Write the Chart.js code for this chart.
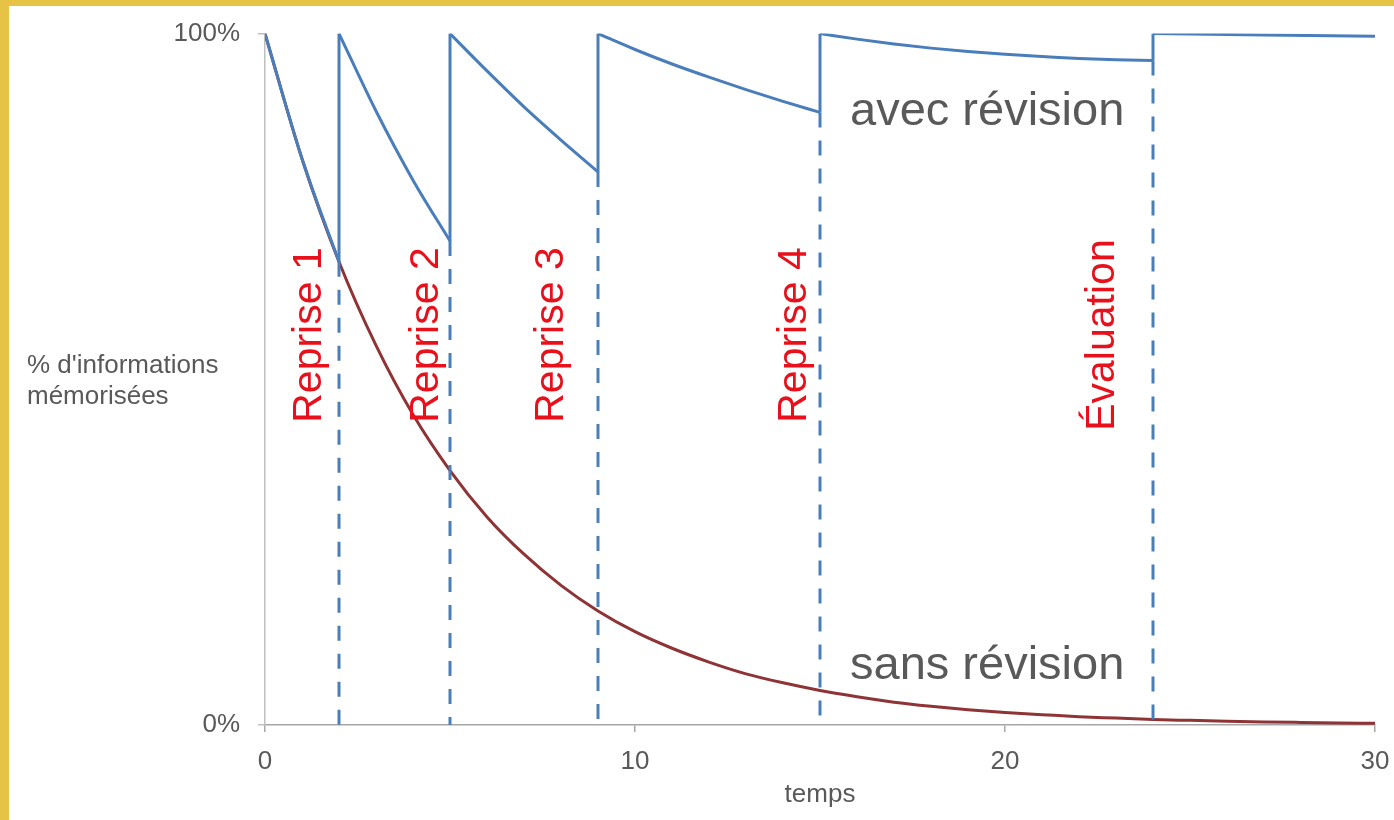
<!DOCTYPE html>
<html lang="fr">
<head>
<meta charset="utf-8">
<title>Courbe de l'oubli</title>
<script src="https://cdn.jsdelivr.net/npm/chart.js@4.4.1/dist/chart.umd.min.js"></script>
<style>
  html, body { margin: 0; padding: 0; background: #fff; }
  canvas { display: block; }
</style>
</head>
<body>
<canvas id="chart" width="1394" height="820"></canvas>
<script>
// temps 0..30, sans révision
const sansTemps = [0, 1, 2, 3, 4, 5, 6, 7, 8, 9, 10, 11, 12, 13, 14, 15, 16, 17, 18, 19, 20, 21, 22, 23, 24, 25, 26, 27, 28, 29, 30];
const sansRevision = [100, 81.9, 67, 54.9, 44.9, 36.8, 30.1, 24.7, 20.2, 16.5, 13.5, 11.1, 9.1, 7.4, 6.1, 5, 4.1, 3.3, 2.7, 2.2, 1.8, 1.5, 1.2, 1, 0.8, 0.67, 0.55, 0.45, 0.37, 0.3, 0.25];

// avec révision, un morceau par période
const avecTemps1 = [0, 1, 2];
const avecRevision1 = [100, 81.9, 67];
const avecTemps2 = [2, 3, 4, 5];
const avecRevision2 = [100, 88.8, 78.8, 70];
const avecTemps3 = [5, 6, 7, 8, 9];
const avecRevision3 = [100, 94.6, 89.4, 84.6, 80];
const avecTemps4 = [9, 10, 11, 12, 13, 14, 15];
const avecRevision4 = [100, 97.7, 95.6, 93.7, 91.9, 90.2, 88.6];
const avecTemps5 = [15, 16, 17, 18, 19, 20, 21, 22, 23, 24];
const avecRevision5 = [100, 99.2, 98.5, 97.9, 97.4, 97, 96.7, 96.4, 96.2, 96.1];
const avecTemps6 = [24, 27, 30];
const avecRevision6 = [100, 99.8, 99.6];

const repriseTemps = [2, 5, 9, 15, 24];
const repriseLabels = ['Reprise 1', 'Reprise 2', 'Reprise 3', 'Reprise 4', 'Évaluation'];

const xTicks = [0, 10, 20, 30];
const yTicks = [0, 100];

const BLUE = '#4A7EBB';
const RED = '#8E3436';
const GREY = '#595959';
const FONT = '"Liberation Sans", Arial, sans-serif';

const toPoints = (xs, ys) => xs.map((t, i) => ({ x: t, y: ys[i] }));

const avecParts = [
  [avecTemps1, avecRevision1],
  [avecTemps2, avecRevision2],
  [avecTemps3, avecRevision3],
  [avecTemps4, avecRevision4],
  [avecTemps5, avecRevision5],
  [avecTemps6, avecRevision6]
];

// niveau juste avant chaque reprise = fin du morceau précédent
const niveauAvant = avecParts.slice(0, 5).map(p => p[1][p[1].length - 1]);

const sauts = [];
const pointilles = [];
repriseTemps.forEach((t, i) => {
  sauts.push({ x: t, y: niveauAvant[i] }, { x: t, y: 100 }, { x: t, y: null });
  pointilles.push({ x: t, y: niveauAvant[i] }, { x: t, y: 0 }, { x: t, y: null });
});

const datasets = [];
avecParts.forEach(p => {
  datasets.push({
    data: toPoints(p[0], p[1]),
    borderColor: BLUE,
    borderWidth: 3,
    cubicInterpolationMode: 'monotone',
    order: 1
  });
});
datasets.push({ data: sauts, borderColor: BLUE, borderWidth: 3, tension: 0, order: 1 });
datasets.push({ data: pointilles, borderColor: BLUE, borderWidth: 3, borderDash: [15, 13], tension: 0, order: 2 });
datasets.push({
  data: toPoints(sansTemps, sansRevision),
  borderColor: RED,
  borderWidth: 3,
  cubicInterpolationMode: 'monotone',
  order: 3
});

// décalages des étiquettes rouges par rapport aux pointillés (px)
const labelDx = [-29, -23, -46, -25, -50];

const fond = {
  id: 'fond',
  beforeDraw(chart) {
    const { ctx, width, height } = chart;
    ctx.save();
    ctx.fillStyle = '#fff';
    ctx.fillRect(0, 0, width, height);
    ctx.fillStyle = '#E6C344';
    ctx.fillRect(0, 0, 9, height);
    ctx.fillRect(0, 0, width, 6);
    ctx.restore();
  }
};

const textes = {
  id: 'textes',
  afterDatasetsDraw(chart) {
    const { ctx, scales: { x, y } } = chart;
    ctx.save();
    // étiquettes verticales
    ctx.fillStyle = '#E8101A';
    ctx.font = '41px ' + FONT;
    ctx.textAlign = 'center';
    ctx.textBaseline = 'middle';
    repriseLabels.forEach((txt, i) => {
      ctx.save();
      ctx.translate(x.getPixelForValue(repriseTemps[i]) + labelDx[i], y.getPixelForValue(56.4));
      ctx.rotate(-Math.PI / 2);
      ctx.fillText(txt, 0, 0);
      ctx.restore();
    });
    // noms des courbes
    ctx.fillStyle = GREY;
    ctx.font = '47px ' + FONT;
    ctx.textAlign = 'left';
    ctx.textBaseline = 'alphabetic';
    ctx.fillText('avec révision', 850, 125);
    ctx.fillText('sans révision', 850, 679);
    // titre de l'axe y, horizontal
    ctx.font = '26px ' + FONT;
    ctx.fillText("% d'informations", 27, 373);
    ctx.fillText('mémorisées', 27, 404);
    ctx.restore();
  }
};

new Chart(document.getElementById('chart'), {
  type: 'line',
  data: { datasets: datasets },
  options: {
    responsive: false,
    animation: false,
    devicePixelRatio: 1,
    layout: { padding: { left: 0, top: 33, right: 19, bottom: 0 } },
    elements: { point: { radius: 0, hoverRadius: 0 } },
    plugins: { legend: { display: false }, tooltip: { enabled: false } },
    scales: {
      x: {
        type: 'linear',
        min: 0,
        max: 30,
        afterFit: s => { s.height = 95; s.paddingLeft = 0; s.paddingRight = 0; },
        afterBuildTicks: s => { s.ticks = xTicks.map(v => ({ value: v })); },
        grid: { drawOnChartArea: false, tickLength: 7, color: '#A6A6A6', lineWidth: 1.5 },
        border: { color: '#A6A6A6', width: 1.5 },
        ticks: { color: GREY, font: { size: 26, family: FONT }, padding: 14, maxRotation: 0 },
        title: { display: true, text: 'temps', color: GREY, font: { size: 26, family: FONT }, padding: { top: 0, bottom: 10 } }
      },
      y: {
        min: 0,
        max: 100,
        afterFit: s => { s.width = 265; },
        afterBuildTicks: s => { s.ticks = yTicks.map(v => ({ value: v })); },
        grid: { drawOnChartArea: false, tickLength: 7, color: '#BFBFBF', lineWidth: 1.5 },
        border: { color: '#BFBFBF', width: 1.5 },
        ticks: { color: GREY, font: { size: 26, family: FONT }, padding: 18, callback: v => v + '%' }
      }
    }
  },
  plugins: [fond, textes]
});
</script>
</body>
</html>
